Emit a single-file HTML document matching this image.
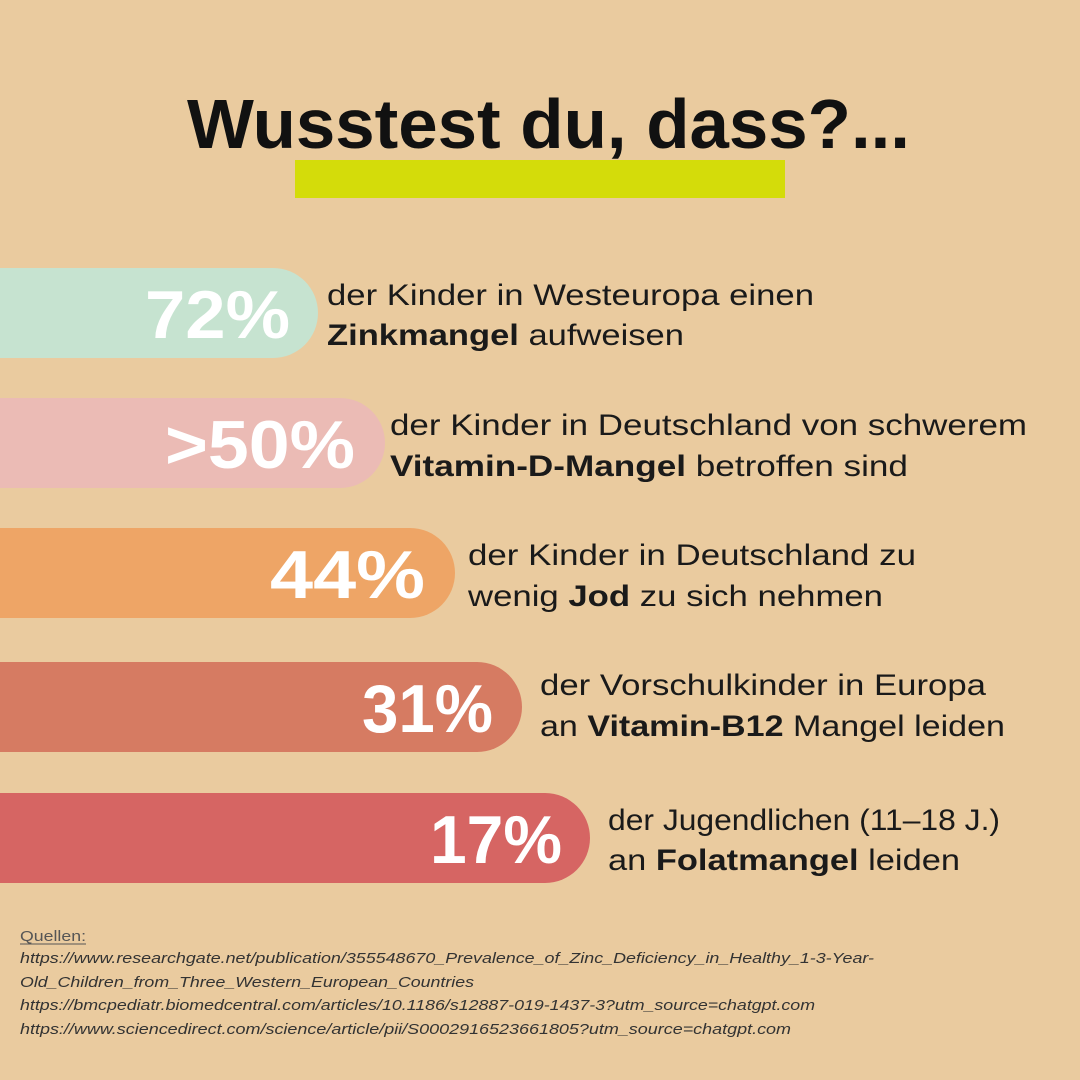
<!DOCTYPE html>
<html><head><meta charset="utf-8"><style>
html,body{margin:0;padding:0;background:#EACB9F;}
svg{display:block}
text{font-family:"Liberation Sans",sans-serif;}
.d{font-size:30px;fill:#1a1a1a;}
.n{font-size:68px;font-weight:bold;fill:#fff;}
.s{font-size:15px;font-style:italic;fill:#333;}
</style></head><body>
<svg width="1080" height="1080" viewBox="0 0 1080 1080">
<rect width="1080" height="1080" fill="#EACB9F"/>
<text x="187" y="148" font-size="70" font-weight="bold" fill="#111" textLength="723" lengthAdjust="spacingAndGlyphs">Wusstest du, dass?...</text>
<rect x="295" y="160" width="490" height="38" fill="#D4DC0A"/>

<rect x="-60" y="268" width="378" height="90" rx="45" fill="#C6E3D0"/>
<rect x="-60" y="398" width="445" height="90" rx="45" fill="#EBBBB5"/>
<rect x="-60" y="528" width="515" height="90" rx="45" fill="#EEA566"/>
<rect x="-60" y="662" width="582" height="90" rx="45" fill="#D67B62"/>
<rect x="-60" y="793" width="650" height="90" rx="45" fill="#D66563"/>

<text class="n" x="145" y="338" textLength="145" lengthAdjust="spacingAndGlyphs">72%</text>
<text class="n" x="165" y="468" textLength="190" lengthAdjust="spacingAndGlyphs">&gt;50%</text>
<text class="n" x="270" y="598" textLength="155" lengthAdjust="spacingAndGlyphs">44%</text>
<text class="n" x="362" y="732" textLength="131" lengthAdjust="spacingAndGlyphs">31%</text>
<text class="n" x="430" y="863" textLength="132" lengthAdjust="spacingAndGlyphs">17%</text>

<text class="d" x="327" y="305" textLength="487" lengthAdjust="spacingAndGlyphs">der Kinder in Westeuropa einen</text>
<text class="d" x="327" y="345" textLength="357" lengthAdjust="spacingAndGlyphs"><tspan font-weight="bold">Zinkmangel</tspan> aufweisen</text>
<text class="d" x="390" y="435" textLength="637" lengthAdjust="spacingAndGlyphs">der Kinder in Deutschland von schwerem</text>
<text class="d" x="390" y="476" textLength="518" lengthAdjust="spacingAndGlyphs"><tspan font-weight="bold">Vitamin-D-Mangel</tspan> betroffen sind</text>
<text class="d" x="468" y="565" textLength="448" lengthAdjust="spacingAndGlyphs">der Kinder in Deutschland zu</text>
<text class="d" x="468" y="606" textLength="415" lengthAdjust="spacingAndGlyphs">wenig <tspan font-weight="bold">Jod</tspan> zu sich nehmen</text>
<text class="d" x="540" y="695" textLength="446" lengthAdjust="spacingAndGlyphs">der Vorschulkinder in Europa</text>
<text class="d" x="540" y="736" textLength="465" lengthAdjust="spacingAndGlyphs">an <tspan font-weight="bold">Vitamin-B12</tspan> Mangel leiden</text>
<text class="d" x="608" y="830" textLength="392" lengthAdjust="spacingAndGlyphs">der Jugendlichen (11–18 J.)</text>
<text class="d" x="608" y="870" textLength="352" lengthAdjust="spacingAndGlyphs">an <tspan font-weight="bold">Folatmangel</tspan> leiden</text>

<text class="s" x="20" y="941" style="font-style:normal;fill:#555" textLength="66" lengthAdjust="spacingAndGlyphs">Quellen:</text>
<line x1="20" y1="944" x2="86" y2="944" stroke="#555" stroke-width="1"/>
<text class="s" x="20" y="963" textLength="854" lengthAdjust="spacingAndGlyphs">https://www.researchgate.net/publication/355548670_Prevalence_of_Zinc_Deficiency_in_Healthy_1-3-Year-</text>
<text class="s" x="20" y="987" textLength="454" lengthAdjust="spacingAndGlyphs">Old_Children_from_Three_Western_European_Countries</text>
<text class="s" x="20" y="1010" textLength="795" lengthAdjust="spacingAndGlyphs">https://bmcpediatr.biomedcentral.com/articles/10.1186/s12887-019-1437-3?utm_source=chatgpt.com</text>
<text class="s" x="20" y="1034" textLength="771" lengthAdjust="spacingAndGlyphs">https://www.sciencedirect.com/science/article/pii/S0002916523661805?utm_source=chatgpt.com</text>
</svg>
</body></html>
